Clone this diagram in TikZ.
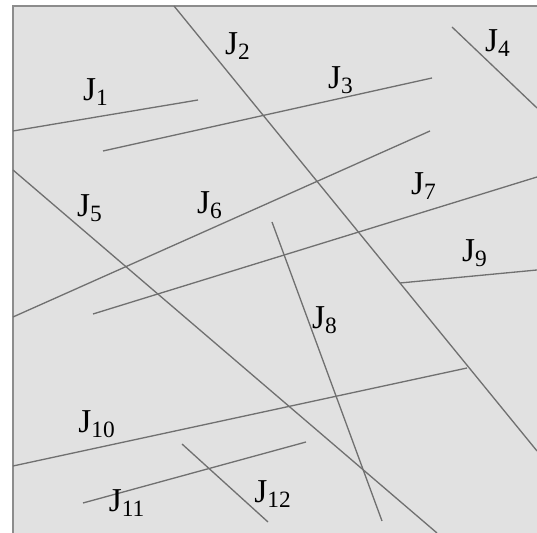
\documentclass[tikz,border=0pt]{standalone}
\usepackage{fontspec}
\setmainfont{Liberation Serif}
\usepackage{tikz}
\usepackage{xcolor}
\definecolor{Frame}{HTML}{8C8C8C}
\definecolor{Rock}{HTML}{E1E1E1}
\definecolor{Trace}{HTML}{707070}

\begin{document}
\begin{tikzpicture}[
  joint/.style={draw=Trace,line width=0.75pt},
  border/.style={draw=Frame,line width=1pt},
  jlabel/.style={font=\fontsize{19}{21}\selectfont,inner sep=0pt}
]
\useasboundingbox (0,0) rectangle (10.74,10.66);
\fill[Rock] (0.26,0) rectangle (10.74,10.54);
\draw[border] (0.26,0) -- (0.26,10.54) -- (10.74,10.54);
% joint end points
\coordinate (j1a) at (0.26,8.04);  \coordinate (j1b) at (3.96,8.66);
\coordinate (j2a) at (3.48,10.54); \coordinate (j2b) at (10.74,1.64);
\coordinate (j3a) at (2.06,7.64);  \coordinate (j3b) at (8.64,9.10);
\coordinate (j4a) at (9.04,10.12); \coordinate (j4b) at (10.74,8.50);
\coordinate (j5a) at (0.26,7.26);  \coordinate (j5b) at (8.74,0);
\coordinate (j6a) at (0.26,4.32);  \coordinate (j6b) at (8.60,8.04);
\coordinate (j7a) at (1.86,4.38);  \coordinate (j7b) at (10.74,7.12);
\coordinate (j8a) at (5.44,6.22);  \coordinate (j8b) at (7.64,0.24);
\coordinate (j9a) at (8.00,5.00);  \coordinate (j9b) at (10.74,5.26);
\coordinate (j10a) at (0.26,1.34); \coordinate (j10b) at (9.34,3.30);
\coordinate (j11a) at (1.66,0.60); \coordinate (j11b) at (6.12,1.82);
\coordinate (j12a) at (3.64,1.78); \coordinate (j12b) at (5.36,0.22);
\foreach \j in {1,...,12}
  \draw[joint] (j\j a) -- (j\j b);
% labels
\node[jlabel] (l1) at (1.92,8.82) {J\textsubscript{1}};
\node[jlabel] (l2) at (4.76,9.74) {J\textsubscript{2}};
\node[jlabel] (l3) at (6.82,9.06) {J\textsubscript{3}};
\node[jlabel] (l4) at (9.96,9.80) {J\textsubscript{4}};
\node[jlabel] (l5) at (1.80,6.50) {J\textsubscript{5}};
\node[jlabel] (l6) at (4.20,6.56) {J\textsubscript{6}};
\node[jlabel] (l7) at (8.48,6.94) {J\textsubscript{7}};
\node[jlabel] (l8) at (6.50,4.26) {J\textsubscript{8}};
\node[jlabel] (l9) at (9.50,5.60) {J\textsubscript{9}};
\node[jlabel] (l10) at (1.94,2.18) {J\textsubscript{10}};
\node[jlabel] (l11) at (2.54,0.60) {J\textsubscript{11}};
\node[jlabel] (l12) at (5.46,0.78) {J\textsubscript{12}};
\end{tikzpicture}
\end{document}
